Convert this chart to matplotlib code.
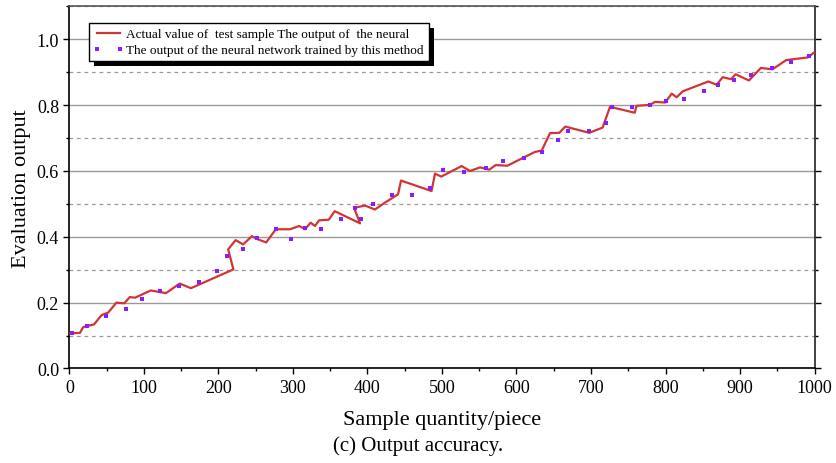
import matplotlib
matplotlib.use("Agg")
import matplotlib.pyplot as plt
from matplotlib.ticker import MultipleLocator, FormatStrFormatter
from matplotlib.patches import Rectangle

plt.rcParams['font.family'] = ['Liberation Serif', 'DejaVu Serif']

# Actual values (line)
actual_x = [1, 14, 18.5, 33, 43, 52, 63, 73.5, 81, 88, 109, 129.5, 148, 163, 220, 213, 223, 233, 245,
            251, 264, 277, 296, 308.5, 316, 323.7, 329.5, 335, 348, 356, 390, 382, 396.6, 410, 423.5,
            441, 445, 486, 490.6, 499, 526.4, 537.6, 551, 563.5, 572, 587.6, 624.8, 633.8, 645, 657.5,
            665.5, 697.7, 715.6, 725.5, 758.7, 761, 779, 786, 799.5, 808.3, 815, 823, 857.5, 868.6,
            876.7, 888, 894, 912, 928, 943.5, 962, 991, 1000]
actual_y = [0.107, 0.108, 0.126, 0.134, 0.162, 0.170, 0.200, 0.198, 0.217, 0.215, 0.237, 0.229, 0.258,
            0.244, 0.301, 0.362, 0.390, 0.377, 0.402, 0.394, 0.383, 0.423, 0.423, 0.433, 0.423, 0.443,
            0.433, 0.450, 0.452, 0.478, 0.441, 0.488, 0.495, 0.483, 0.504, 0.529, 0.571, 0.539, 0.592,
            0.583, 0.615, 0.600, 0.611, 0.604, 0.618, 0.616, 0.658, 0.662, 0.715, 0.716, 0.735, 0.716,
            0.732, 0.795, 0.777, 0.798, 0.801, 0.810, 0.808, 0.835, 0.824, 0.842, 0.872, 0.862, 0.885,
            0.879, 0.894, 0.875, 0.913, 0.909, 0.937, 0.945, 0.961]

# Network outputs (points)
net_x = [3, 23, 48.5, 76, 97, 121, 147, 174, 197.5, 211, 233, 252, 277.6, 298, 316.5, 337, 364.8,
         383.6, 391.3, 407.8, 432.3, 460, 484, 502, 530, 559, 581.5, 609.7, 634.6, 655.3, 669.5, 697,
         720, 728, 755.4, 779, 800, 825, 851.7, 870.5, 892, 914.8, 943, 968, 992]
net_y = [0.107, 0.130, 0.160, 0.181, 0.210, 0.235, 0.250, 0.263, 0.297, 0.342, 0.362, 0.395, 0.423,
         0.394, 0.427, 0.425, 0.455, 0.487, 0.453, 0.499, 0.526, 0.527, 0.548, 0.602, 0.598, 0.609,
         0.629, 0.641, 0.658, 0.694, 0.721, 0.722, 0.745, 0.795, 0.795, 0.799, 0.814, 0.818, 0.843,
         0.860, 0.875, 0.892, 0.913, 0.930, 0.949]

label_actual = "Actual value of  test sample The output of  the neural"
label_net = "The output of the neural network trained by this method"

fig = plt.figure(figsize=(8.36, 4.64), dpi=100)
ax = fig.add_axes([0.0831, 0.2037, 0.8912, 0.7803])

ax.set_xlim(0, 1000)
ax.set_ylim(0, 1.1)

ax.xaxis.set_major_locator(MultipleLocator(100))
ax.xaxis.set_minor_locator(MultipleLocator(50))
ax.yaxis.set_major_locator(MultipleLocator(0.2))
ax.yaxis.set_minor_locator(MultipleLocator(0.1))
ax.yaxis.set_major_formatter(FormatStrFormatter('%.1f'))

ax.grid(which='major', axis='y', color='#9a9a9a', linestyle='-', linewidth=1.0)
ax.grid(which='minor', axis='y', color='#9a9a9a', linestyle=(0, (3, 3)), linewidth=0.9)
ax.set_axisbelow(True)

ax.plot(actual_x, actual_y, color='#d03535', linewidth=1.6, label=label_actual, zorder=3)
ax.plot(net_x, net_y, linestyle='none', marker='s', markersize=2.6, color='#8a1cff',
        markeredgewidth=0, label=label_net, zorder=4)

ax.tick_params(axis='both', which='major', direction='out', length=4, width=1, labelsize=13)
ax.tick_params(axis='both', which='minor', direction='out', length=2.5, width=1)
ax.tick_params(axis='y', which='both', right=True)
for side in ['left', 'bottom', 'top', 'right']:
    ax.spines[side].set_linewidth(1.2)
ax.spines['top'].set_color('#555555')
ax.spines['right'].set_color('#222222')

ax.set_xlabel('Sample quantity/piece', fontsize=16, labelpad=10)
ax.set_ylabel('Evaluation output', fontsize=16, labelpad=4)

leg = ax.legend(loc='upper left', bbox_to_anchor=(0.026, 0.953), fontsize=9.5, frameon=True,
                fancybox=False, edgecolor='black', framealpha=1, numpoints=2,
                handlelength=2.3, handletextpad=0.2, borderpad=0.35, labelspacing=0.3,
                borderaxespad=0)
leg.get_frame().set_linewidth(1.0)
leg.set_zorder(6)

# black drop shadow behind the legend box
fig.canvas.draw()
bb = leg.get_window_extent().transformed(ax.transAxes.inverted())
off = ax.transAxes.inverted().transform((5, 5)) - ax.transAxes.inverted().transform((0, 0))
ax.add_patch(Rectangle((bb.x0 + off[0], bb.y0 - off[1]), bb.width, bb.height,
                       transform=ax.transAxes, facecolor='black', edgecolor='none',
                       zorder=5.5, clip_on=False))

fig.text(0.5, 1 - 446 / 464, '(c) Output accuracy.', ha='center', va='center', fontsize=15)

fig.savefig('out.png', dpi=100)
